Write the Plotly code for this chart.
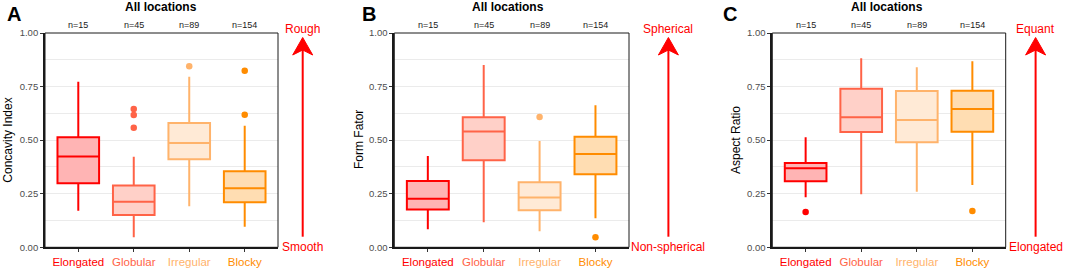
import plotly.graph_objects as go

W, H = 1065, 271

categories = ["Elongated", "Globular", "Irregular", "Blocky"]
counts = ["n=15", "n=45", "n=89", "n=154"]
line_colors = ["#FF0000", "#FF6347", "#FFB36B", "#FF8C00"]
fill_colors = ["#FFB4B4", "#FFD0C8", "#FFEAD6", "#FFDDB2"]

# Panel A: Concavity Index
conc_low = [0.171, 0.047, 0.191, 0.096]
conc_q1 = [0.299, 0.151, 0.411, 0.210]
conc_med = [0.424, 0.213, 0.487, 0.275]
conc_q3 = [0.514, 0.288, 0.580, 0.355]
conc_high = [0.773, 0.423, 0.796, 0.567]
conc_out = [[], [0.645, 0.617, 0.558], [0.845], [0.824, 0.619]]

# Panel B: Form Fator
form_low = [0.084, 0.117, 0.075, 0.135]
form_q1 = [0.176, 0.406, 0.173, 0.341]
form_med = [0.227, 0.540, 0.232, 0.435]
form_q3 = [0.309, 0.607, 0.303, 0.516]
form_high = [0.426, 0.851, 0.496, 0.663]
form_out = [[], [], [0.608], [0.047]]

# Panel C: Aspect Ratio
asp_low = [0.233, 0.247, 0.259, 0.291]
asp_q1 = [0.308, 0.538, 0.490, 0.539]
asp_med = [0.369, 0.607, 0.594, 0.645]
asp_q3 = [0.393, 0.740, 0.729, 0.731]
asp_high = [0.513, 0.882, 0.840, 0.868]
asp_out = [[0.165], [], [], [0.169]]

y_ticks = [0.0, 0.25, 0.5, 0.75, 1.0]
y_ticktext = ["0.00", "0.25", "0.50", "0.75", "1.00"]

panels = [
    dict(letter="A", ytitle="Concavity Index", top="Rough", bottom="Smooth",
         low=conc_low, q1=conc_q1, med=conc_med, q3=conc_q3, high=conc_high, out=conc_out,
         x0=45.0, x1=278.0, letter_x=13.5, ytitle_x=7.7, title_x=161.2, arrow_x=302.7),
    dict(letter="B", ytitle="Form Fator", top="Spherical", bottom="Non-spherical",
         low=form_low, q1=form_q1, med=form_med, q3=form_q3, high=form_high, out=form_out,
         x0=394.3, x1=629.0, letter_x=369.0, ytitle_x=359.0, title_x=508.0, arrow_x=668.4),
    dict(letter="C", ytitle="Aspect Ratio", top="Equant", bottom="Elongated",
         low=asp_low, q1=asp_q1, med=asp_med, q3=asp_q3, high=asp_high, out=asp_out,
         x0=772.3, x1=1005.7, letter_x=730.3, ytitle_x=736.0, title_x=887.2, arrow_x=1035.6),
]

Y_TOP, Y_BOT = 33.0, 247.3
FONT = "Liberation Sans, Arial, sans-serif"


def px(x):
    return x / W


def py(y):
    return 1 - y / H


fig = go.Figure()
annotations = []
shapes = []

for i, p in enumerate(panels):
    k = "" if i == 0 else str(i + 1)
    xa, ya = "x" + k, "y" + k
    for j, cat in enumerate(categories):
        fig.add_trace(go.Box(
            x=[cat], q1=[p["q1"][j]], median=[p["med"][j]], q3=[p["q3"][j]],
            lowerfence=[p["low"][j]], upperfence=[p["high"][j]],
            fillcolor=fill_colors[j], line=dict(color=line_colors[j], width=2),
            whiskerwidth=0, width=0.75, boxpoints=False, showlegend=False,
            xaxis=xa, yaxis=ya, hoverinfo="skip",
        ))
        if p["out"][j]:
            fig.add_trace(go.Scatter(
                x=[cat] * len(p["out"][j]), y=p["out"][j], mode="markers",
                marker=dict(color=line_colors[j], size=6.5),
                showlegend=False, xaxis=xa, yaxis=ya, hoverinfo="skip",
            ))
        annotations.append(dict(
            x=cat, y=py(24.5), xref=xa, yref="paper", text=counts[j],
            showarrow=False, font=dict(size=9, color="#1A1A1A", family=FONT),
            xanchor="center", yanchor="middle",
        ))

    tick_text = [f"<span style='color:{c}'>{t}</span>" for t, c in zip(categories, line_colors)]
    fig.update_layout(**{
        "xaxis" + k: dict(
            domain=[px(p["x0"]), px(p["x1"])], type="category",
            categoryorder="array", categoryarray=categories,
            range=[-0.6, 3.6], tickvals=categories, ticktext=tick_text,
            tickfont=dict(size=11.5, family=FONT), ticks="outside", ticklen=3,
            tickcolor="#333333", showline=True, linecolor="#1A1A1A", linewidth=1.8,
            showgrid=False, zeroline=False, anchor=ya, fixedrange=True,
            automargin=False,
        ),
        "yaxis" + k: dict(
            domain=[py(Y_BOT), py(Y_TOP)], range=[0, 1],
            tickvals=y_ticks, ticktext=y_ticktext,
            tickfont=dict(size=9.5, color="#4D4D4D", family=FONT),
            ticks="outside", ticklen=3, tickcolor="#333333",
            showline=True, linecolor="#1A1A1A", linewidth=1.8,
            showgrid=True, gridcolor="#EBEBEB", gridwidth=1,
            minor=dict(tickvals=[0.125, 0.375, 0.625, 0.875], showgrid=True,
                       gridcolor="#EBEBEB", gridwidth=1, ticks=""),
            zeroline=False, anchor=xa, fixedrange=True, automargin=False,
        ),
    })

    # panel border
    shapes.append(dict(type="rect", xref="paper", yref="paper",
                       x0=px(p["x0"]), x1=px(p["x1"]), y0=py(Y_BOT), y1=py(Y_TOP),
                       line=dict(color="#1A1A1A", width=1), layer="above"))

    # arrow
    ax = p["arrow_x"]
    shapes.append(dict(type="line", xref="paper", yref="paper",
                       x0=px(ax), x1=px(ax), y0=py(236.7), y1=py(50),
                       line=dict(color="#FF0000", width=2)))
    path = (f"M {px(ax)} {py(37.5)} L {px(ax - 10)} {py(55)} "
            f"L {px(ax)} {py(50)} L {px(ax + 10)} {py(55)} Z")
    shapes.append(dict(type="path", xref="paper", yref="paper", path=path,
                       fillcolor="#FF0000", line=dict(color="#FF0000", width=1)))

    annotations += [
        dict(x=px(ax), y=py(29), xref="paper", yref="paper", text=p["top"],
             showarrow=False, font=dict(size=12, color="#FF0000", family=FONT),
             xanchor="center", yanchor="middle"),
        dict(x=px(ax), y=py(247), xref="paper", yref="paper", text=p["bottom"],
             showarrow=False, font=dict(size=12, color="#FF0000", family=FONT),
             xanchor="center", yanchor="middle"),
        dict(x=px(p["letter_x"]), y=py(14), xref="paper", yref="paper",
             text="<b>" + p["letter"] + "</b>", showarrow=False,
             font=dict(size=20, color="#000000", family=FONT),
             xanchor="center", yanchor="middle"),
        dict(x=px(p["title_x"]), y=py(7), xref="paper", yref="paper",
             text="<b>All locations</b>", showarrow=False,
             font=dict(size=12, color="#000000", family=FONT),
             xanchor="center", yanchor="middle"),
        dict(x=px(p["ytitle_x"]), y=py(140), xref="paper", yref="paper",
             text=p["ytitle"], textangle=-90, showarrow=False,
             font=dict(size=12, color="#000000", family=FONT),
             xanchor="center", yanchor="middle"),
    ]

fig.update_layout(
    template="none",
    width=W, height=H, margin=dict(l=0, r=0, t=0, b=0, pad=0),
    paper_bgcolor="white", plot_bgcolor="white",
    boxmode="overlay", showlegend=False,
    annotations=annotations, shapes=shapes,
    font=dict(family=FONT),
)

fig.write_html("out.html", config={"displayModeBar": False},
               post_script="document.body.style.margin='0';document.body.style.overflow='hidden';")
